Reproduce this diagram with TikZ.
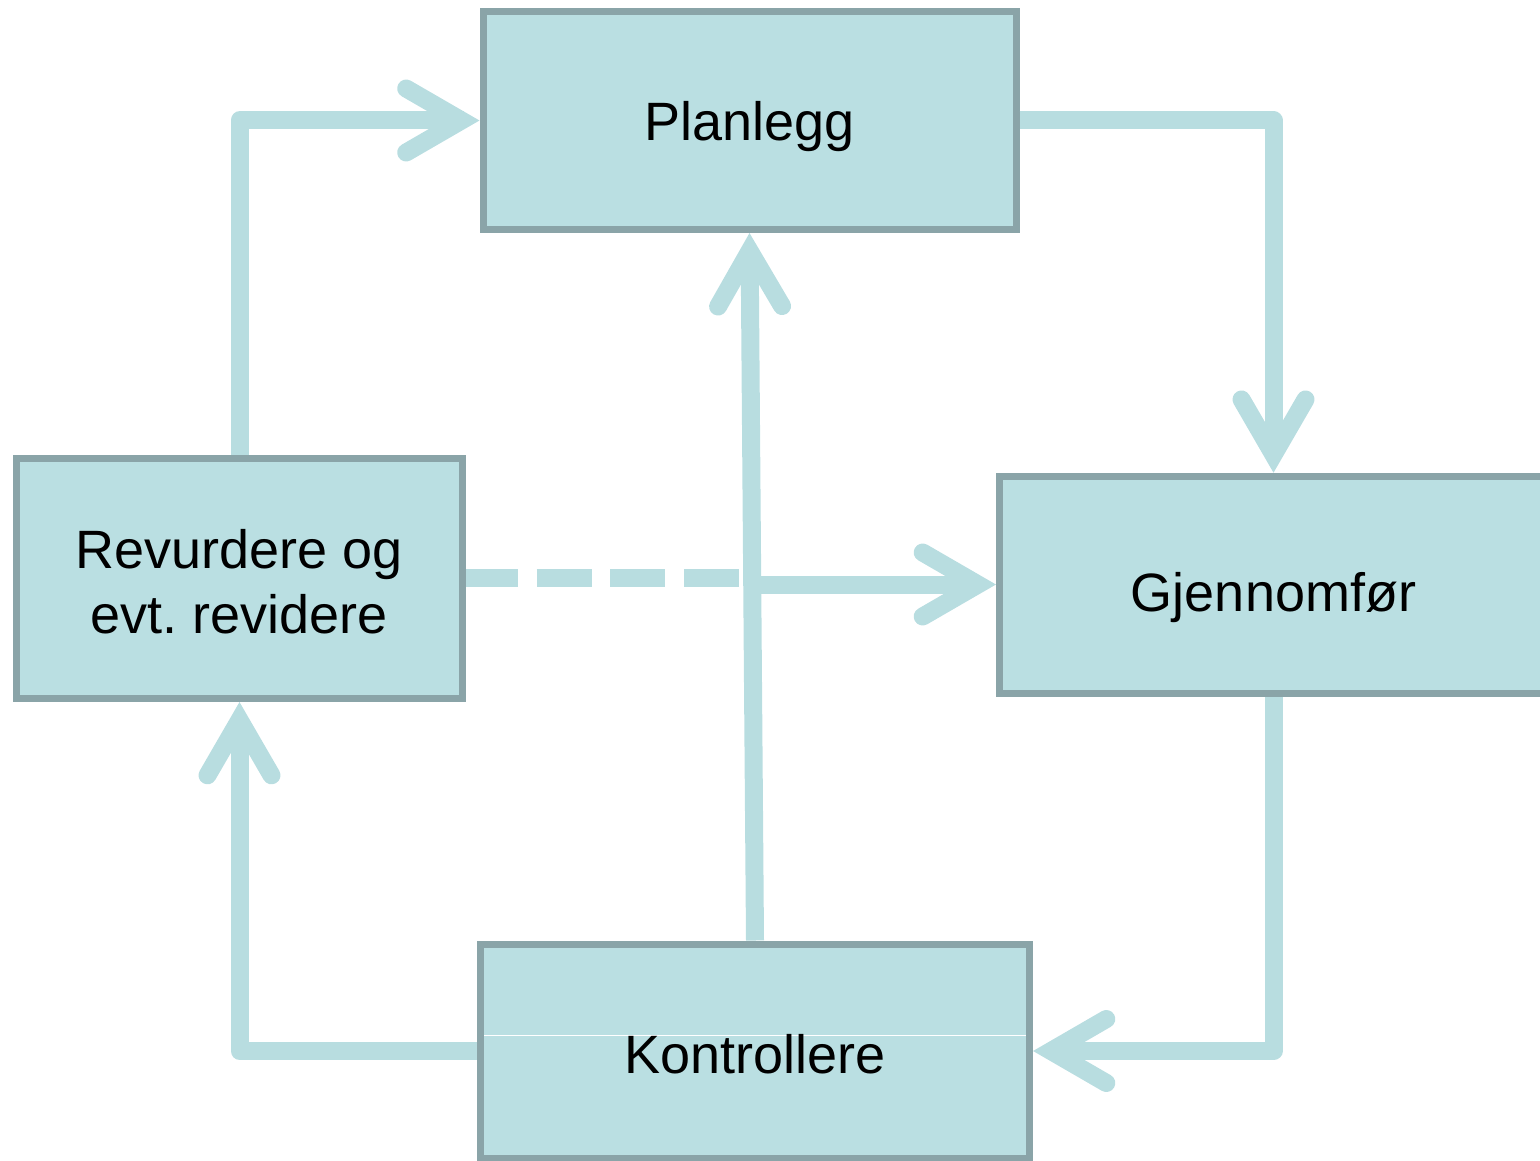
\documentclass[tikz,border=0pt]{standalone}
\usepackage{fontspec}
\setmainfont{Liberation Sans}
\usetikzlibrary{calc}
\definecolor{boxfill}{RGB}{186,223,226}
\definecolor{boxline}{RGB}{138,164,168}
\definecolor{arrowc}{RGB}{184,221,224}
\pgfdeclarearrow{
  name = Chev,
  setup code = {
    \pgfarrowssettipend{0pt}
    \pgfarrowssetlineend{-16pt}
    \pgfarrowssetbackend{-82pt}
  },
  drawing code = {
    \pgfsetdash{}{0pt}
    \pgfsetlinewidth{18pt}
    \pgfsetmiterjoin
    \pgfsetroundcap
    \pgfpathmoveto{\pgfqpoint{-73.3pt}{32pt}}
    \pgfpathlineto{\pgfqpoint{-18pt}{0pt}}
    \pgfpathlineto{\pgfqpoint{-73.3pt}{-32pt}}
    \pgfusepathqstroke
  },
}
\frenchspacing
\begin{document}
\begin{tikzpicture}[x=1pt, y=-1pt,
  box/.style={rectangle, draw=boxline, fill=boxfill, line width=7pt, inner sep=0pt,
    font=\fontsize{54pt}{65pt}\selectfont},
  conn/.style={draw=arrowc, line width=18pt, line join=round, -Chev}]
\useasboundingbox (0,0) rectangle (1540,1161);
\clip (0,0) rectangle (1540,1161);
\node[box, minimum width=533pt, minimum height=218pt, text height=41pt, text depth=0pt] (pl) at (749.5,120.5) {Planlegg};
\node[box, minimum width=446pt, minimum height=240pt, align=center] (rev) at (239.5,578.5) {\rule{0pt}{46pt}Revurdere og\\evt.\ revidere};
\node[box, minimum width=548pt, minimum height=217pt, text height=54pt, text depth=0pt] (gj) at (1273.5,584.75) {Gjennomfør};
\node[box, minimum width=549pt, minimum height=214pt, text height=44pt, text depth=0pt,
  path picture={\draw[white, line width=1pt] ([yshift=16pt]path picture bounding box.west) -- ([yshift=16pt]path picture bounding box.east);}] (kon) at (755,1051) {Kontrollere};
\draw[conn] (rev.north) |- (pl.west);
\draw[conn] (pl.east) -| (gj.north);
\draw[conn] (gj.south) |- (kon.east);
\draw[conn] (kon.west) -| (rev.south);
\draw[conn] (kon.north) -- (pl.south);
\coordinate (dashend) at (740,577.5);
\coordinate (solidstart) at (760,584.5);
\draw[conn, -, dash pattern=on 55pt off 18.7pt, dash phase=3pt] (rev.east |- dashend) -- (dashend);
\draw[conn] (solidstart) -- (solidstart -| gj.west);
\end{tikzpicture}
\end{document}
